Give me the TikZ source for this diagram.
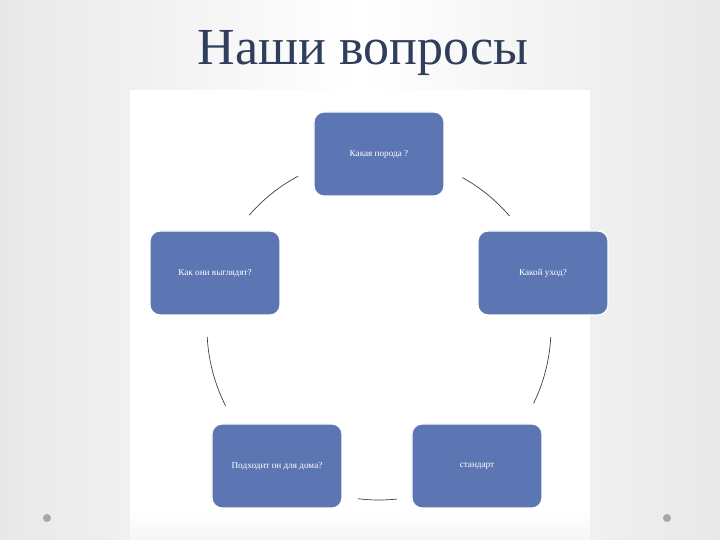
\documentclass[tikz,border=0pt]{standalone}
\usepackage{fontspec}
\setmainfont{Liberation Serif}
\definecolor{boxblue}{RGB}{92,117,179}
\definecolor{titlec}{RGB}{48,62,92}
\definecolor{bggray}{RGB}{232,232,232}
\begin{document}
\begin{tikzpicture}[x=0.5pt,y=0.5pt,
  qbox/.style={draw=white,line width=0.6pt,fill=boxblue,rounded corners=5pt,minimum width=65pt,minimum height=42pt,text=white,font=\fontsize{4.6}{5}\selectfont,inner sep=1pt},
  arcline/.style={draw=black!75,line width=0.35pt},
  dotc/.style={circle,fill=gray!70,inner sep=0pt,minimum size=4pt}]
\useasboundingbox (0,0) rectangle (720,540);
\shade[left color=bggray,right color=bggray,middle color=white] (0,0) rectangle (720,540);
\fill[white,path fading=none] (130,20) rectangle (590,450);
\shade[top color=white,bottom color=bggray!40] (130,0) rectangle (590,30);
\node[text=titlec,font=\fontsize{26}{30}\selectfont] (title) at (363,487) {Наши вопросы};
\node[qbox] (top) at (379,386) {Какая порода ?};
\node[qbox] (left) at (215,267) {Как они выглядят?};
\node[qbox] (right) at (543,267) {Какой уход?};
\node[qbox] (bl) at (277,74) {Подходит он для дома?};
\node[qbox] (br) at (477,74) {стандарт};
\coordinate (C) at (379,212);
\draw[arcline] ([shift={(139:86pt)}]C) arc[start angle=139,end angle=118,radius=86pt];
\draw[arcline] ([shift={(61:86pt)}]C) arc[start angle=61,end angle=40.6,radius=86pt];
\draw[arcline] ([shift={(183:86pt)}]C) arc[start angle=183,end angle=207,radius=86pt];
\draw[arcline] ([shift={(-3:86pt)}]C) arc[start angle=-3,end angle=-26,radius=86pt];
\draw[arcline] ([shift={(263:86pt)}]C) arc[start angle=263,end angle=276,radius=86pt];
\node[dotc] (d1) at (47,22) {};
\node[dotc] (d2) at (667,22) {};
\end{tikzpicture}
\end{document}
